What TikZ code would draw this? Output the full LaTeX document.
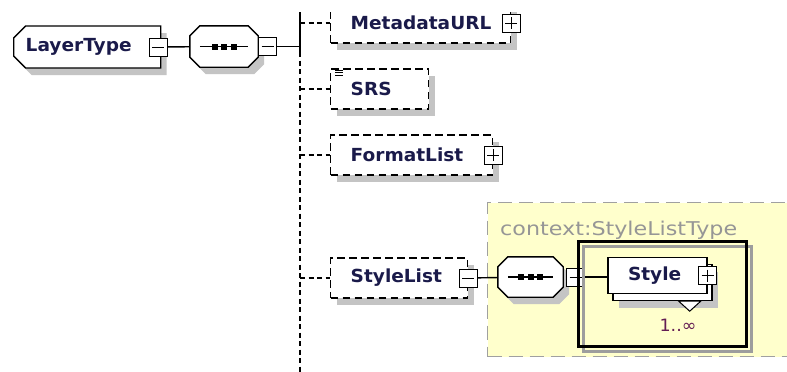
\documentclass[tikz,border=0pt]{standalone}
\usepackage{fontspec}
\setmainfont{DejaVu Sans}[FakeStretch=1.03]
\newfontfamily\grouptypefont{DejaVu Sans}[FakeStretch=1.17]
\usetikzlibrary{shapes.misc,shadows}

\definecolor{namecol}{RGB}{26,26,74}
\definecolor{typecol}{RGB}{150,150,150}
\definecolor{occcol}{RGB}{100,30,84}
\definecolor{groupfill}{RGB}{255,255,204}
\definecolor{groupline}{RGB}{160,160,160}
\definecolor{shadowgrey}{RGB}{196,196,196}

% sequence compositor: octagon with the three dots on a line
\newcommand\seqglyph[1]{%
  \draw[seqline,boxshadow] ([xshift=10pt]#1.north west) -- ([xshift=-10pt]#1.north east)
    -- ([yshift=-10pt]#1.north east) -- ([yshift=10pt]#1.south east)
    -- ([xshift=-10pt]#1.south east) -- ([xshift=10pt]#1.south west)
    -- ([yshift=10pt]#1.south west) -- ([yshift=-10pt]#1.north west) -- cycle;
  \draw[line width=1.2pt] ([xshift=10pt]#1.west) -- ([xshift=-10pt]#1.east);
  \foreach \dx in {-9.5,0,9.5}
    \fill ([xshift=\dx]#1.center) +(-3,-3) rectangle +(3,3);
}

\begin{document}
\begin{tikzpicture}[x=1pt,y=-1pt,
  wire/.style={line width=1.4pt},
  optwire/.style={wire,dash pattern=on 5pt off 3.5pt},
  boxshadow/.style={drop shadow={shadow xshift=6pt,shadow yshift=-7pt,fill=shadowgrey,opacity=1}},
  elem/.style={draw,fill=white,line width=1.4pt,minimum height=40pt,inner xsep=20pt,inner ysep=0pt,
    align=left,text=namecol,font=\bfseries\fontsize{18}{20}\selectfont},
  optelem/.style={elem,boxshadow,dash pattern=on 7.5pt off 4.5pt},
  typebox/.style={elem,boxshadow,chamfered rectangle,chamfered rectangle corners={north west,south west},
    chamfered rectangle xsep=6pt,chamfered rectangle ysep=6pt,inner xsep=6pt,minimum height=42pt},
  seqbox/.style={inner sep=0pt},
  seqline/.style={draw,fill=white,line width=1.4pt},
  btn/.style={draw,fill=white,line width=1pt,minimum size=18pt,inner sep=0pt},
  minusbtn/.style={btn,path picture={
      \draw[line width=1pt] ([xshift=3pt]path picture bounding box.west) -- ([xshift=-3pt]path picture bounding box.east);}},
  plusbtn/.style={btn,path picture={
      \draw[line width=1pt] ([xshift=3pt]path picture bounding box.west) -- ([xshift=-3pt]path picture bounding box.east);
      \draw[line width=1pt] ([yshift=-3pt]path picture bounding box.north) -- ([yshift=3pt]path picture bounding box.south);}},
  groupbox/.style={fill=groupfill,draw=groupline,line width=1.4pt,dash pattern=on 14pt off 7pt},
  groupsel/.style={draw,line width=3pt,
    preaction={draw=shadowgrey!80!black,line width=2.5pt,transform canvas={shift={(5pt,-5pt)}}}},
]
\fill[white] (0,0) rectangle (787,372);
\useasboundingbox (0,0) rectangle (787,372);
\clip (0,12) rectangle (787,372);

% root type and its sequence
\node[typebox,anchor=west,text width=123pt] (layertype) at (13,47) {LayerType};
\node[minusbtn] (layertypebtn) at ([xshift=-3pt]layertype.east) {};
\node[seqbox,minimum width=68pt,minimum height=41pt] (seqmain) at (224,46.5) {};
\seqglyph{seqmain}
\node[minusbtn,anchor=west] (seqmainbtn) at (seqmain.east) {};
\draw[wire] (layertypebtn) -- (seqmain);

% bus for the children
\coordinate (bus) at (300,12);
\coordinate (busjoin) at (300,52);
\coordinate (busend) at (300,372);
\draw[wire] (seqmainbtn) -- (seqmainbtn -| bus);
\draw[wire] (bus) -- (busjoin);
\draw[optwire] (busjoin) -- (busend);

% optional children
\node[optelem,anchor=west,text width=140pt] (metadataurl) at (330,23) {MetadataURL};
\node[plusbtn] (metadataurlbtn) at (metadataurl.east) {};
\node[optelem,anchor=west,text width=58pt] (srs) at (330,89) {SRS};
\foreach \dy in {2,4.5,7}
  \draw[line width=0.8pt] ([shift={(5,\dy)}]srs.north west) -- ++(8,0);
\node[optelem,anchor=west,text width=122pt] (formatlist) at (330,155) {FormatList};
\node[plusbtn] (formatlistbtn) at (formatlist.east) {};
\node[optelem,anchor=west,text width=97pt] (stylelist) at (330,278) {StyleList};
\foreach \child in {metadataurl,srs,formatlist,stylelist}
  \draw[optwire] (bus |- \child.west) -- (\child.west);

% StyleList content
\node[groupbox,minimum width=313pt,minimum height=154pt,anchor=north west] (styletype) at (487,202) {};
\node[font=\grouptypefont\fontsize{19}{21}\selectfont,text=typecol,anchor=base west,inner sep=0pt] (styletypename) at (500,235) {context:StyleListType};
\node[minusbtn] (stylelistbtn) at (stylelist.east) {};
\node[seqbox,minimum width=65pt,minimum height=40pt] (seqstyle) at (530.5,277) {};
\seqglyph{seqstyle}
\node[minusbtn,anchor=west] (seqstylebtn) at ([xshift=3pt]seqstyle.east) {};
\draw[wire] (stylelistbtn) -- (seqstyle);
\node[groupsel,minimum width=168pt,minimum height=105pt,anchor=north west] (styleseq) at (577,240) {};

% Style, repeated
\node[elem,boxshadow,minimum width=99pt,minimum height=36pt] (styleback) at (662.5,282.5) {};
\node[elem,text width=59pt,minimum height=36pt] (style) at ([shift={(-5,-7)}]styleback.center) {Style};
\node[plusbtn] (stylebtn) at (style.east) {};
\draw[wire] (seqstylebtn) -- (seqstylebtn -| style.west);
\draw[line width=1pt,fill=white] ([xshift=-34pt]styleback.south east) -- ++(22,0) -- ++(-11,10) -- cycle;
\node[text=occcol,font=\fontsize{17}{19}\selectfont,inner sep=0pt] (styleocc) at (678,325) {1..∞};
\end{tikzpicture}
\end{document}
